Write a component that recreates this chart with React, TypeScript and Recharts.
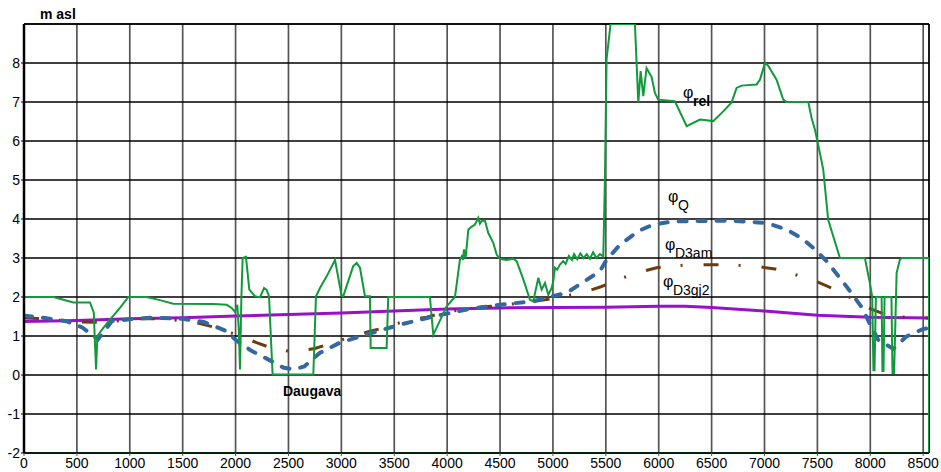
import React from 'react';
import { LineChart, Line, XAxis, YAxis, CartesianGrid, ReferenceLine, ReferenceDot } from 'recharts';

const FONT = '"Liberation Sans", Arial, Helvetica, sans-serif';

const xTicks = [0, 500, 1000, 1500, 2000, 2500, 3000, 3500, 4000, 4500, 5000, 5500, 6000, 6500, 7000, 7500, 8000, 8500];
const yTicks = [-2, -1, 0, 1, 2, 3, 4, 5, 6, 7, 8];
const xMax = 8555;
const yMin = -2;
const yMax = 9;

// φ_D3gj2 (purple)
const gjX = [0, 500, 1000, 1500, 2000, 2500, 3000, 3500, 4000, 4500, 5000, 5500, 6000, 6250, 6500, 7000, 7500, 8000, 8555];
const gjY = [1.37, 1.40, 1.44, 1.47, 1.51, 1.55, 1.59, 1.64, 1.69, 1.72, 1.73, 1.74, 1.76, 1.76, 1.73, 1.64, 1.53, 1.48, 1.46];

// φ_Q (blue dashed)
const qX = [0, 200, 400, 550, 700, 830, 1000, 1200, 1500, 1700, 1900, 2010, 2150, 2294, 2450, 2550, 2650, 2798, 2987, 3239, 3554, 3866, 4184, 4499, 4811, 5132, 5444, 5507, 5633, 5807, 5949, 6137, 6484, 6673, 7020, 7209, 7351, 7477, 7587, 7713, 7808, 7918, 8000, 8075, 8217, 8343, 8500, 8555];
const qY = [1.52, 1.46, 1.38, 1.22, 0.92, 1.38, 1.43, 1.47, 1.44, 1.36, 1.14, 0.88, 0.62, 0.42, 0.19, 0.14, 0.22, 0.57, 0.83, 1.04, 1.29, 1.50, 1.68, 1.80, 1.89, 2.11, 2.66, 2.95, 3.34, 3.69, 3.86, 3.94, 3.95, 3.96, 3.90, 3.73, 3.51, 3.22, 2.92, 2.49, 2.15, 1.74, 1.29, 0.90, 0.67, 0.99, 1.18, 1.20];

// φ_D3am (brown dash-dot)
const amX = [0, 150, 500, 700, 940, 1125, 1285, 1475, 1664, 1821, 2010, 2199, 2341, 2545, 2750, 2892, 3081, 3270, 3428, 3617, 3806, 3963, 4150, 4340, 4499, 4700, 4907, 5066, 5271, 5460, 5602, 5791, 5980, 6137, 6342, 6547, 6704, 6909, 7099, 7257, 7445, 7635, 7777, 7947, 8140, 8281, 8500, 8555];
const amY = [1.46, 1.45, 1.36, 1.35, 1.40, 1.45, 1.44, 1.40, 1.32, 1.21, 1.03, 0.83, 0.69, 0.59, 0.68, 0.80, 0.97, 1.12, 1.23, 1.40, 1.48, 1.60, 1.68, 1.75, 1.78, 1.85, 1.92, 2.00, 2.10, 2.27, 2.43, 2.62, 2.75, 2.80, 2.83, 2.83, 2.82, 2.79, 2.72, 2.60, 2.45, 2.23, 2.04, 1.76, 1.55, 1.49, 1.46, 1.46];

// φ_rel (green)
const relX = [0, 280, 466, 624, 660, 668, 681, 694, 750, 813, 907, 986, 1160, 1285, 1411, 1790, 1916, 1963, 1994, 2016, 2030, 2042, 2055, 2067, 2098, 2130, 2183, 2230, 2269, 2294, 2316, 2350, 2735, 2760, 2798, 2861, 2940, 3003, 3018, 3112, 3145, 3176, 3223, 3270, 3277, 3428, 3443, 3837, 3869, 3995, 4074, 4121, 4137, 4150, 4159, 4175, 4200, 4230, 4263, 4294, 4310, 4326, 4357, 4389, 4436, 4468, 4499, 4560, 4625, 4657, 4720, 4783, 4814, 4862, 4893, 4925, 4956, 4988, 5003, 5019, 5040, 5066, 5097, 5120, 5150, 5180, 5200, 5230, 5260, 5290, 5320, 5350, 5380, 5410, 5444, 5476, 5492, 5507, 5545, 5775, 5807, 5829, 5854, 5885, 5933, 5964, 5995, 6153, 6264, 6390, 6515, 6610, 6689, 6736, 6784, 6925, 6957, 7004, 7035, 7114, 7177, 7209, 7414, 7445, 7477, 7524, 7555, 7602, 7713, 7949, 7996, 8018, 8030, 8040, 8053, 8107, 8115, 8125, 8135, 8200, 8210, 8225, 8249, 8280, 8300, 8555, 8555, 0];
const relY = [2.0, 2.0, 1.86, 1.86, 1.6, 1.0, 0.14, 1.0, 1.21, 1.42, 1.72, 2.0, 2.0, 1.92, 1.83, 1.82, 1.80, 1.72, 1.62, 1.80, 1.2, 0.14, 2.0, 3.0, 3.03, 2.19, 2.02, 1.99, 2.23, 2.18, 2.02, 0.01, 0.01, 2.02, 2.23, 2.53, 2.95, 2.02, 2.02, 2.79, 2.87, 2.75, 2.02, 2.02, 0.69, 0.69, 2.0, 2.0, 1.03, 1.76, 2.0, 2.96, 3.04, 2.95, 3.22, 3.0, 3.73, 3.8, 3.86, 4.03, 3.88, 3.95, 3.96, 3.64, 3.39, 3.09, 2.98, 2.95, 2.98, 2.92, 2.45, 1.93, 1.89, 2.49, 2.19, 2.36, 2.06, 2.23, 2.40, 2.75, 2.7, 2.83, 2.92, 2.85, 3.05, 2.95, 3.1, 2.97, 3.12, 3.0, 3.1, 2.98, 3.15, 3.0, 3.1, 3.04, 5.1, 8.09, 9.0, 9.0, 6.99, 7.79, 7.15, 7.87, 7.64, 7.23, 7.06, 7.02, 6.38, 6.55, 6.51, 6.76, 6.99, 7.36, 7.42, 7.45, 7.57, 8.0, 7.93, 7.57, 7.06, 7.0, 7.0, 6.59, 6.29, 5.69, 5.27, 3.98, 3.0, 3.0, 2.36, 2.0, 0.12, 0.12, 2.0, 2.0, 0.1, 0.1, 2.0, 2.0, 0.05, 0.05, 2.62, 2.96, 3.0, 3.0, -2, -2];

const toPoints = (xs: number[], ys: number[]) => xs.map((x, i) => ({ x, y: ys[i] }));
const gjData = toPoints(gjX, gjY);
const qData = toPoints(qX, qY);
const amData = toPoints(amX, amY);
const relData = toPoints(relX, relY);

// annotation anchors (data coordinates)
const labels = [
  { x: 6229, y: 6.91, sub: 'rel', bold: true },
  { x: 6087, y: 4.24, sub: 'Q', bold: false },
  { x: 6059, y: 3.01, sub: 'D3am', bold: false },
  { x: 6040, y: 2.04, sub: 'D3gj2', bold: false },
];

const PhiLabel = (props: any) => {
  const { viewBox, sub, bold } = props;
  if (!viewBox) return null;
  const x = viewBox.x;
  const y = viewBox.y;
  return (
    <g>
      <text x={x} y={y - 8} fontFamily={FONT} fontSize={16} fill="#000">φ</text>
      <text x={x + 10} y={y} fontFamily={FONT} fontSize={14} fontWeight={bold ? 'bold' : 'normal'} fill="#000">{sub}</text>
    </g>
  );
};

const PlainLabel = (props: any) => {
  const { viewBox, text } = props;
  if (!viewBox) return null;
  return (
    <text x={viewBox.x} y={viewBox.y} fontFamily={FONT} fontSize={14} fontWeight="bold" fill="#000">{text}</text>
  );
};

const noText = () => '';

export default function App() {
  return (
    <div style={{ position: 'absolute', left: 0, top: 0, width: 941, height: 472, background: '#fff' }}>
      <LineChart width={941} height={472} margin={{ top: 0, right: 0, bottom: 0, left: 0 }}>
        <CartesianGrid horizontal={false} stroke="#555" strokeWidth={1.7} />
        <CartesianGrid vertical={false} stroke="#000" strokeWidth={1.3} />
        <XAxis
          dataKey="x"
          type="number"
          domain={[0, xMax]}
          ticks={xTicks}
          allowDataOverflow
          height={19}
          tickSize={3}
          tickMargin={2}
          axisLine={{ stroke: '#000', strokeWidth: 1.5 }}
          tickLine={{ stroke: '#555' }}
          tick={{ fontFamily: FONT, fontSize: 14, fill: '#000' }}
          interval={0}
        />
        <XAxis
          xAxisId="top"
          orientation="top"
          dataKey="x"
          type="number"
          domain={[0, xMax]}
          ticks={xTicks}
          height={24}
          tickSize={3}
          axisLine={false}
          tickLine={{ stroke: '#555', strokeWidth: 1.6 }}
          tickFormatter={noText}
          interval={0}
        />
        <YAxis
          type="number"
          domain={[yMin, yMax]}
          ticks={yTicks}
          allowDataOverflow
          width={24}
          tickSize={3}
          tickMargin={1}
          axisLine={{ stroke: '#000', strokeWidth: 2.5 }}
          tickLine={{ stroke: '#000' }}
          tick={{ fontFamily: FONT, fontSize: 14, fill: '#000' }}
          interval={0}
        />
        <YAxis
          yAxisId="r"
          orientation="right"
          type="number"
          domain={[yMin, yMax]}
          ticks={yTicks}
          width={12}
          tickSize={4}
          axisLine={false}
          tickLine={{ stroke: '#000' }}
          tickFormatter={noText}
          interval={0}
        />
        <ReferenceLine y={yMax} stroke="#000" strokeWidth={1.5} />
        <ReferenceLine x={xMax} stroke="#000" strokeWidth={1.5} />
        <Line data={gjData} dataKey="y" type="linear" stroke="#9a0fcc" strokeWidth={3} dot={false} isAnimationActive={false} />
        <Line data={amData} dataKey="y" type="linear" stroke="#6e3b0d" strokeWidth={3} strokeDasharray="15 20 2 21" dot={false} isAnimationActive={false} />
        <Line data={qData} dataKey="y" type="linear" stroke="#3468a0" strokeWidth={4} strokeDasharray="8 11" strokeLinecap="round" dot={false} isAnimationActive={false} />
        <Line data={relData} dataKey="y" type="linear" stroke="#109a3a" strokeWidth={2} dot={false} isAnimationActive={false} />
        {labels.map((l) => (
          <ReferenceDot key={l.sub} x={l.x} y={l.y} r={0} fill="none" stroke="none" ifOverflow="visible" label={<PhiLabel sub={l.sub} bold={l.bold} />} />
        ))}
        <ReferenceDot x={2448} y={-0.55} r={0} fill="none" stroke="none" ifOverflow="visible" label={<PlainLabel text="Daugava" />} />
        <ReferenceDot x={151} y={9.12} r={0} fill="none" stroke="none" ifOverflow="visible" label={<PlainLabel text="m asl" />} />
      </LineChart>
    </div>
  );
}
